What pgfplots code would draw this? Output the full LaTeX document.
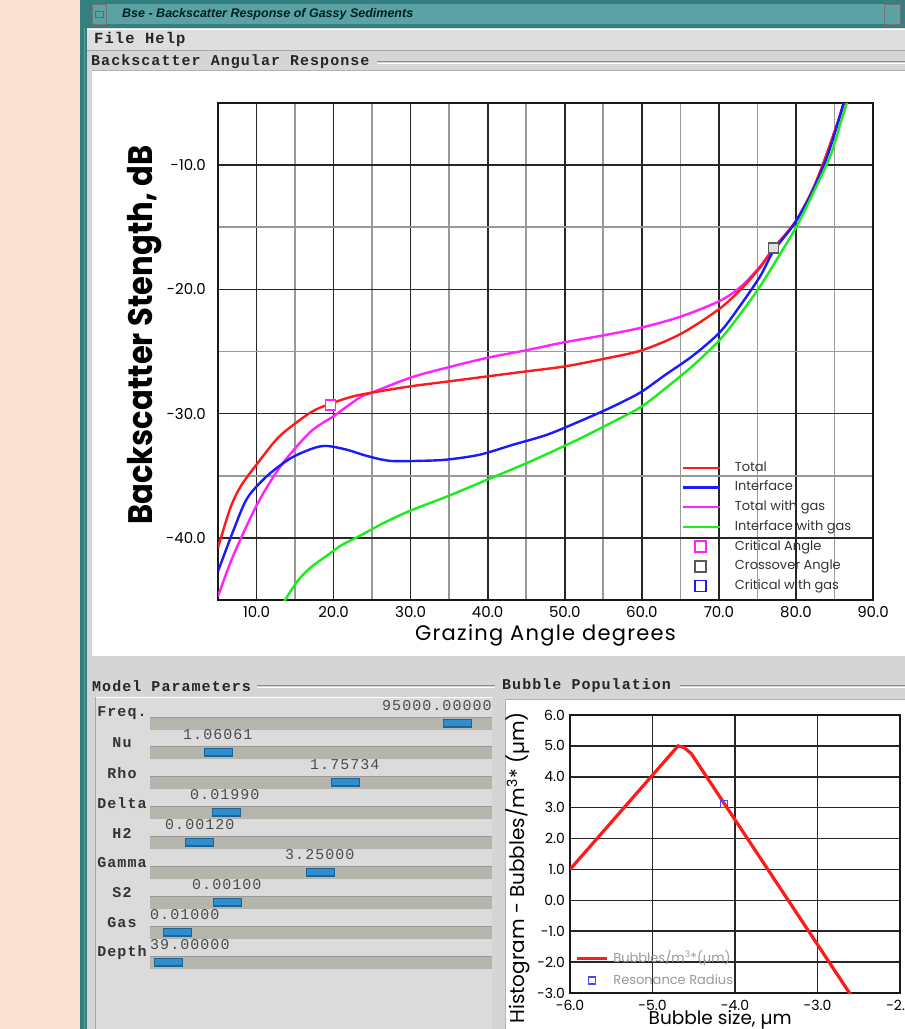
\documentclass[border=0pt]{standalone}
\usepackage{pgfplots}
\pgfplotsset{compat=1.18}
\usepackage{pgfplotstable}
\usepackage{fontspec}
\setmainfont{Poppins}
\newfontfamily\condbold{Poppins}[FakeStretch=0.9]
\newfontfamily\spaced{Poppins}[LetterSpace=6]
\newfontfamily\guimono{Liberation Mono}[LetterSpace=7]
\newfontfamily\guititle{Liberation Sans}
\newcommand\fs[1]{\fontsize{#1}{#1}\selectfont}

\definecolor{peach}{HTML}{FBE3D3}
\definecolor{tealdark}{HTML}{347F80}
\definecolor{teallight}{HTML}{5AA2A3}
\definecolor{guigray}{HTML}{D5D5D5}
\definecolor{menugray}{HTML}{DEDEDE}
\definecolor{panelgray}{HTML}{DBDBDB}
\definecolor{trough}{HTML}{B4B5AD}
\definecolor{thumb}{HTML}{2F8ECF}
\definecolor{curvered}{HTML}{FF1A1A}
\definecolor{curveblue}{HTML}{1A1AFF}
\definecolor{curvemag}{HTML}{FF22FF}
\definecolor{curvegreen}{HTML}{1AEE1A}

% Backscatter strength (dB) against grazing angle (degrees)
\pgfplotstableread{
x y
5 -40.8
6.6 -37.6
8 -35.8
10 -34.1
12.7 -32.0
15 -30.8
17.3 -29.8
19.6 -29.2
22.6 -28.6
26 -28.2
30 -27.8
35 -27.4
40 -27.0
45 -26.6
50 -26.2
55 -25.6
60 -24.9
65 -23.6
70 -21.6
73 -19.9
75.4 -18.2
77.1 -16.7
80 -14.5
82.3 -11.8
84 -9.1
85.5 -6.4
86.3 -4.8
86.8 -3.8
}\totaltab

\pgfplotstableread{
x y
5 -44.7
7 -41.4
10 -37.4
12.7 -34.6
15 -32.8
17.3 -31.3
20 -30.2
23.4 -28.7
25 -28.3
30 -27.1
34.7 -26.3
40 -25.5
45 -24.9
49.6 -24.3
55 -23.7
59.8 -23.1
65 -22.2
70.2 -20.9
73 -19.7
75.4 -18.1
77.1 -16.7
80 -14.5
82.3 -11.8
84 -9.1
85.5 -6.4
86.3 -4.8
86.8 -3.8
}\totalgastab

\pgfplotstableread{
x y
5 -42.7
7 -39.4
8.8 -36.8
11.4 -35.0
14.4 -33.6
17.3 -32.8
19.1 -32.6
21.7 -32.9
24.3 -33.4
27.3 -33.8
31.2 -33.8
34.7 -33.7
39 -33.3
43.3 -32.5
47.7 -31.7
52 -30.6
56 -29.5
59.8 -28.3
63 -26.9
66.7 -25.3
70.2 -23.4
73 -21.1
75.4 -18.9
77.1 -16.9
79.7 -14.8
82 -12.3
84 -9.4
85.3 -6.9
86.3 -4.8
86.8 -3.8
}\interfacetab

\pgfplotstableread{
x y
13.2 -45.5
15.3 -43.5
17 -42.4
19.2 -41.4
21 -40.6
23.5 -39.8
26.5 -38.8
30 -37.8
35 -36.6
40 -35.3
45 -34.0
49.6 -32.7
52 -32.0
55.5 -30.9
59.8 -29.5
63 -28.0
66.7 -26.1
70.2 -24.0
73 -21.8
75.4 -19.7
78 -17.1
80.2 -14.8
82.5 -11.9
84.5 -9.2
85.8 -6.6
86.7 -4.8
87.2 -3.8
}\interfacegastab

% Bubble population histogram (log10 of bubble size)
\pgfplotstableread{
x y
-6 1.0
-4.69 5.0
-4.62 4.95
-4.53 4.75
-2.55 -3.25
}\bubbletab

% one slider row: label, label y, value, value x, trough top, thumb x
\newcommand\slider[6]{%
  \node[font=\guimono\bfseries\fs{15}, text=black!80, inner sep=0pt] at (122,#2) {#1};
  \fill[trough] (150,#5) rectangle (492,#5+14);
  \draw[black!40, line width=1pt] (150,#5+0.5) -- (492,#5+0.5);
  \draw[white!85!black, line width=1pt] (150,#5+13.5) -- (492,#5+13.5);
  \fill[thumb!70!black] (#6,#5+2) rectangle (#6+29,#5+11);
  \fill[thumb] (#6+1,#5+3) rectangle (#6+28,#5+9);
  \node[font=\guimono\fs{15}, text=black!70, anchor=west, inner sep=0pt] at (#4,#5-11) {#3};
}

\begin{document}
\begin{tikzpicture}
\useasboundingbox (0pt,0pt) rectangle (905pt,-1029pt);
\clip (0pt,0pt) rectangle (905pt,-1029pt);

\begin{scope}[x=1pt,y=-1pt]
  % desktop and window frame
  \fill[peach] (0,0) rectangle (905,1029);
  \fill[guigray] (80,0) rectangle (905,1029);
  \fill[tealdark] (80,0) rectangle (87,1029);
  \draw[teallight, line width=1pt] (84,27) -- (84,1029);
  % title bar
  \fill[tealdark] (80,0) rectangle (905,28);
  \fill[teallight] (92,4) rectangle (900,24);
  \draw[black!55, line width=0.8pt] (92,4) rectangle (106,24);
  \draw[black!60, line width=0.8pt] (95,11) rectangle (103,17);
  \draw[black!55, line width=0.8pt] (884,4) rectangle (900,24);
  \node[font=\guititle\bfseries\itshape\fs{12.5}, text=black!75!teal, anchor=west, inner sep=0pt] at (122,14) {Bse - Backscatter Response of Gassy Sediments};
  % menu bar
  \fill[menugray] (87,28) rectangle (905,50);
  \draw[white, line width=1pt] (87,29) -- (905,29);
  \draw[black!35, line width=1pt] (87,50) -- (905,50);
  \node[font=\guimono\bfseries\fs{15.5}, text=black!85, anchor=west, inner sep=0pt] at (94,39) {File Help};
  % plot frame header
  \node[font=\guimono\bfseries\fs{15}, text=black!85, anchor=west, inner sep=0pt] at (91,62) {Backscatter Angular Response};
  \draw[black!45, line width=1pt] (377,61.5) -- (905,61.5);
  \draw[white, line width=1pt] (377,63) -- (905,63);
  \fill[white] (92,70) rectangle (905,656);
  \draw[black!30, line width=1pt] (92,70) -- (905,70);

  % model parameter panel
  \node[font=\guimono\bfseries\fs{15}, text=black!85, anchor=west, inner sep=0pt] at (92,686) {Model Parameters};
  \draw[black!45, line width=1pt] (257,685.5) -- (495,685.5);
  \draw[white, line width=1pt] (257,687) -- (495,687);
  \fill[panelgray] (95,697) rectangle (492,1035);
  \draw[white, line width=1pt] (95,697) -- (492,697);
  \draw[black!35, line width=1pt] (95,697) -- (95,1035);
  \slider{Freq.}{713}{95000.00000}{382}{717}{443}
  \slider{Nu}{743}{1.06061}{183}{746}{204}
  \slider{Rho}{773}{1.75734}{310}{776}{331}
  \slider{Delta}{803}{0.01990}{190}{806}{212}
  \slider{H2}{833}{0.00120}{165}{836}{185}
  \slider{Gamma}{863}{3.25000}{285}{866}{306}
  \slider{S2}{893}{0.00100}{192}{896}{213}
  \slider{Gas}{923}{0.01000}{150}{926}{163}
  \slider{Depth}{953}{39.00000}{150}{956}{154}

  % bubble population panel
  \node[font=\guimono\bfseries\fs{15}, text=black!85, anchor=west, inner sep=0pt] at (502,686) {Bubble Population};
  \draw[black!45, line width=1pt] (680,685.5) -- (905,685.5);
  \draw[white, line width=1pt] (680,687) -- (905,687);
  \fill[white] (505,699) rectangle (905,1035);
  \draw[black!30, line width=1pt] (505,699) -- (905,699);
  \draw[black!30, line width=1pt] (505,699) -- (505,1035);
\end{scope}

% backscatter angular response
\begin{axis}[
  at={(218pt,-600pt)}, anchor=south west,
  scale only axis, width=655pt, height=497pt,
  xmin=5, xmax=90, ymin=-45, ymax=-5,
  xtick={10,20,...,90},
  xticklabels={10.0,20.0,30.0,40.0,50.0,60.0,70.0,80.0,90.0},
  minor xtick={15,25,...,85},
  ytick={-40,-30,-20,-10},
  yticklabels={-40.0,-30.0,-20.0,-10.0},
  minor ytick={-35,-25,-15},
  grid=both,
  major grid style={draw=black!85, line width=1.6pt},
  minor grid style={draw=black!40, line width=1.6pt},
  axis line style={draw=black!90, line width=1.8pt},
  major tick length=0pt, minor tick length=0pt,
  xticklabel style={font=\fs{15}, inner sep=0pt, anchor=center, yshift=-12pt},
  yticklabel style={font=\fs{15}, inner sep=0pt, anchor=east, xshift=-12pt},
  xlabel={Grazing Angle degrees},
  xlabel style={font=\spaced\fs{21}, at={(axis description cs:0.5,-0.072)}, anchor=center, inner sep=0pt},
  ylabel={Backscatter Stength, dB},
  ylabel style={font=\condbold\bfseries\fs{34}, at={(axis description cs:-0.112,0.533)}, anchor=center, inner sep=0pt},
  legend style={draw=none, fill=none, at={(axis description cs:0.7076,0.2797)}, anchor=north west,
    font=\fs{13}, text=black!80, row sep=6.7pt, inner sep=0pt,
    nodes={inner sep=0pt, text height=10pt, text depth=3pt},
    /tikz/every odd column/.append style={column sep=14pt}},
  legend cell align=left,
  legend image code/.code={\draw[mark repeat=2,mark phase=2,#1] plot coordinates {(0pt,0pt) (18pt,0pt) (37pt,0pt)};},
]
\addplot[curvemag, line width=2.4pt, smooth, tension=0.5, forget plot] table {\totalgastab};
\addplot[curvered, line width=2.4pt, smooth, tension=0.5, forget plot] table {\totaltab};
\addplot[curveblue, line width=2.4pt, smooth, tension=0.5, forget plot] table {\interfacetab};
\addplot[curvegreen, line width=2.4pt, smooth, tension=0.5, forget plot] table {\interfacegastab};
\addplot[only marks, mark=square*, mark size=5pt, mark options={draw=curvemag, fill=white, line width=1.8pt}, forget plot] coordinates {(19.6,-29.3)};
\addplot[only marks, mark=square*, mark size=5pt, mark options={draw=black!65, fill=black!12, line width=1.8pt}, forget plot] coordinates {(77.1,-16.7)};

\addlegendimage{curvered, line width=2.2pt}
\addlegendentry{Total}
\addlegendimage{curveblue, line width=2.2pt}
\addlegendentry{Interface}
\addlegendimage{curvemag, line width=2.2pt}
\addlegendentry{Total with gas}
\addlegendimage{curvegreen, line width=2.2pt}
\addlegendentry{Interface with gas}
\addlegendimage{only marks, mark=square, mark size=5.5pt, mark options={draw=curvemag, line width=1.8pt}}
\addlegendentry{Critical Angle}
\addlegendimage{only marks, mark=square, mark size=5.5pt, mark options={draw=black!65, line width=1.8pt}}
\addlegendentry{Crossover Angle}
\addlegendimage{only marks, mark=square, mark size=5.5pt, mark options={draw=curveblue, line width=1.8pt}}
\addlegendentry{Critical with gas}
\end{axis}

% bubble population
\begin{axis}[
  at={(570pt,-993pt)}, anchor=south west,
  scale only axis, width=330pt, height=278pt,
  xmin=-6, xmax=-2, ymin=-3, ymax=6,
  xtick={-6,-5,-4,-3,-2},
  xticklabels={-6.0,-5.0,-4.0,-3.0,-2.0},
  ytick={-3,-2,...,6},
  yticklabels={-3.0,-2.0,-1.0,0.0,1.0,2.0,3.0,4.0,5.0,6.0},
  grid=major,
  major grid style={draw=black!85, line width=1.6pt},
  axis line style={draw=black!90, line width=1.8pt},
  major tick length=0pt,
  xticklabel style={font=\fs{14}, inner sep=0pt, anchor=center, yshift=-12pt},
  yticklabel style={font=\fs{14}, inner sep=0pt, anchor=east, xshift=-5pt},
  xlabel={Bubble size, µm},
  xlabel style={font=\fs{18.5}, at={(axis description cs:0.455,-0.097)}, anchor=center, inner sep=0pt},
  ylabel={Histogram - Bubbles/m\textsuperscript{3}* (µm)},
  ylabel style={font=\fs{20}, at={(axis description cs:-0.158,0.45)}, anchor=center, inner sep=0pt},
  legend style={draw=none, fill=none, at={(axis description cs:0.015,0.148)}, anchor=north west,
    font=\fs{13}, text=black!40, row sep=9pt, inner sep=0pt,
    nodes={inner sep=0pt, text height=10pt, text depth=3pt},
    /tikz/every odd column/.append style={column sep=5pt}},
  legend cell align=left,
  legend image code/.code={\draw[mark repeat=2,mark phase=2,#1] plot coordinates {(0pt,0pt) (15pt,0pt) (30pt,0pt)};},
]
\addplot[curvered, line width=3.2pt, forget plot] table {\bubbletab};
\addplot[only marks, mark=square, mark size=3.5pt, mark options={draw=curveblue!80, line width=1.2pt}, forget plot] coordinates {(-4.13,3.11)};
\addlegendimage{curvered, line width=3.2pt}
\addlegendentry{Bubbles/m\textsuperscript{3}*(µm)}
\addlegendimage{only marks, mark=square, mark size=3.5pt, mark options={draw=curveblue!80, line width=1.2pt}}
\addlegendentry{Resonance Radius}
\end{axis}
\end{tikzpicture}
\end{document}
